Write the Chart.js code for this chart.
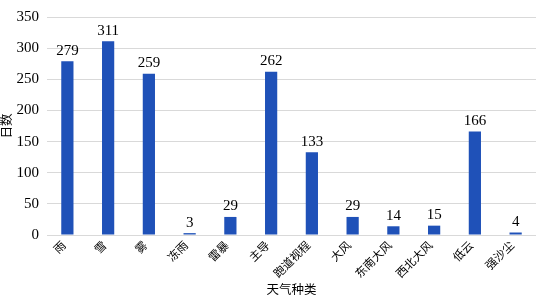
<!DOCTYPE html>
<html>
<head>
<meta charset="utf-8">
<script src="https://cdn.jsdelivr.net/npm/chart.js@4/dist/chart.umd.min.js"></script>
<style>
  html, body { margin: 0; padding: 0; background: #fff; }
  #wrap { width: 540px; height: 301px; }
</style>
</head>
<body>
<div id="wrap"><canvas id="c"></canvas></div>
<script>
var categories = ["雨", "雪", "雾", "冻雨", "雷暴", "主导", "跑道视程", "大风", "东南大风", "西北大风", "低云", "强沙尘"];
var days = [279, 311, 259, 3, 29, 262, 133, 29, 14, 15, 166, 4];
var yTicks = [0, 50, 100, 150, 200, 250, 300, 350];

var FONT = "'Liberation Serif', 'Noto Sans CJK SC', serif";

// draws the value above each bar
var barValues = {
    id: "barValues",
    afterDatasetsDraw: function (chart) {
        var ctx = chart.ctx;
        var meta = chart.getDatasetMeta(0);
        ctx.save();
        ctx.font = "15px " + FONT;
        ctx.fillStyle = "#000";
        ctx.textAlign = "center";
        ctx.textBaseline = "bottom";
        meta.data.forEach(function (bar, i) {
            ctx.fillText(String(chart.data.datasets[0].data[i]), bar.x, bar.y - 3);
        });
        ctx.restore();
    }
};

new Chart(document.getElementById("c"), {
    type: "bar",
    data: {
        labels: categories,
        datasets: [{
            label: "日数",
            data: days,
            backgroundColor: "#1f51b8",
            borderWidth: 0,
            categoryPercentage: 1,
            barPercentage: 0.3
        }]
    },
    options: {
        responsive: true,
        maintainAspectRatio: false,
        animation: false,
        layout: { padding: { top: -2, right: 4, left: 0, bottom: 0 } },
        plugins: {
            legend: { display: false },
            tooltip: { enabled: false }
        },
        scales: {
            x: {
                grid: { display: false, drawTicks: false },
                border: { display: false },
                afterFit: function (axis) { axis.height = 66; },
                ticks: {
                    font: { family: FONT, size: 11.5 },
                    color: "#000",
                    minRotation: 45,
                    maxRotation: 45,
                    autoSkip: false,
                    padding: 4,
                    labelOffset: -3
                },
                title: {
                    display: true,
                    text: "天气种类",
                    font: { family: FONT, size: 12.5 },
                    color: "#000",
                    padding: { top: 0, bottom: 3 }
                }
            },
            y: {
                min: 0,
                max: 350,
                afterBuildTicks: function (axis) {
                    axis.ticks = yTicks.map(function (v) { return { value: v }; });
                },
                afterFit: function (axis) { axis.width = 47; },
                grid: { color: "#d9d9d9", drawTicks: false },
                border: { display: false },
                ticks: {
                    font: { family: FONT, size: 15 },
                    color: "#000",
                    padding: 8
                },
                title: {
                    display: true,
                    text: "日数",
                    font: { family: FONT, size: 12.5 },
                    color: "#000",
                    padding: { top: 0, bottom: 0 }
                }
            }
        }
    },
    plugins: [barValues]
});
</script>
</body>
</html>
